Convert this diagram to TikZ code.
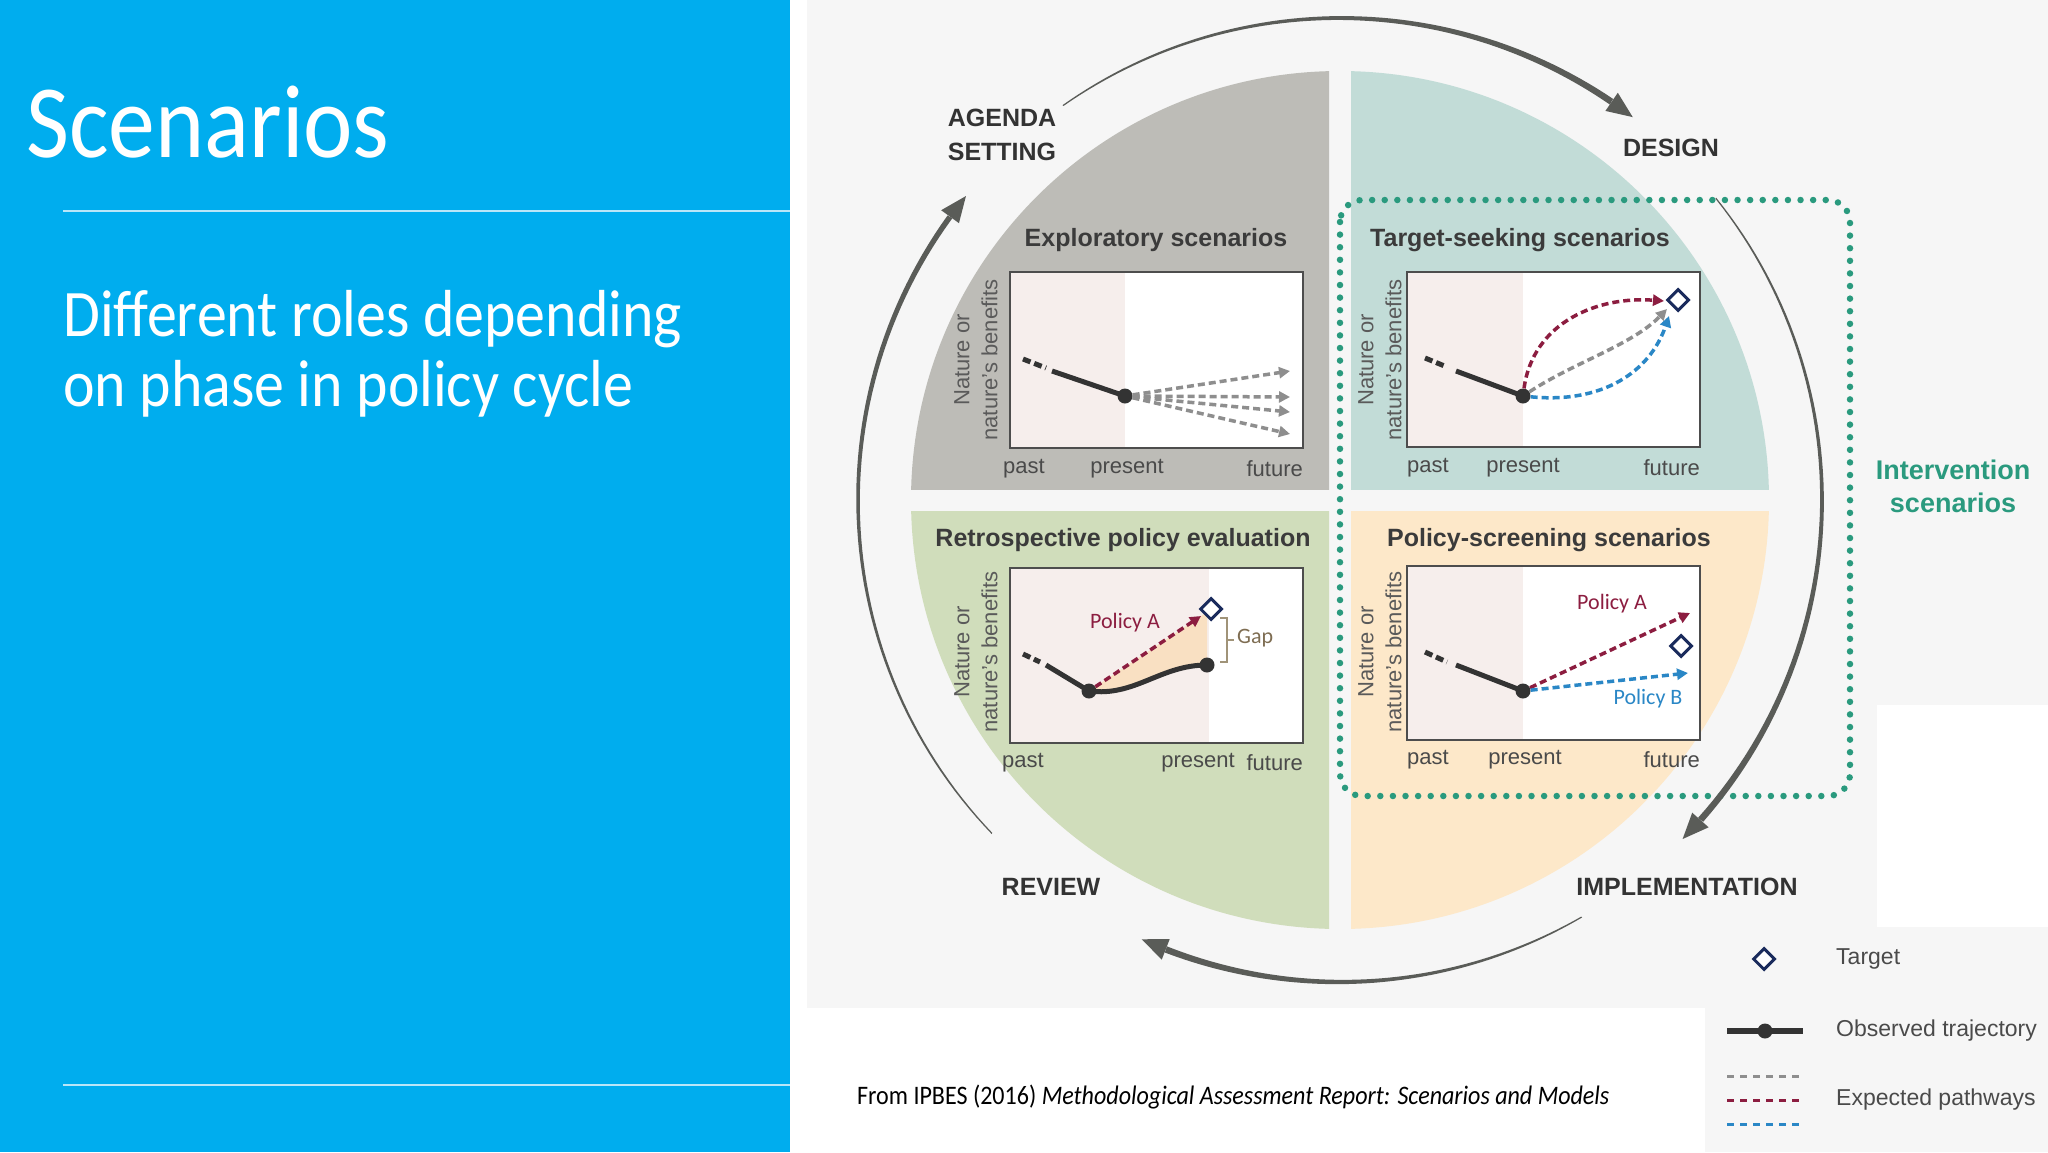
\documentclass[tikz,border=0pt]{standalone}
\usepackage{fontspec}
\setmainfont{Liberation Sans}
\newfontfamily\gill[FakeStretch=0.9]{Carlito}
\newfontfamily\calib{Carlito}
\usetikzlibrary{arrows.meta,shapes.geometric}
\definecolor{slideblue}{HTML}{00ADEE}
\definecolor{figbg}{HTML}{F6F6F6}
\definecolor{rulecol}{HTML}{B9E6F8}
\definecolor{qgray}{HTML}{BDBCB7}
\definecolor{qteal}{HTML}{C2DCD7}
\definecolor{qgreen}{HTML}{D0DDBB}
\definecolor{qorange}{HTML}{FDE8C9}
\definecolor{pastpink}{HTML}{F6EEEC}
\definecolor{framecol}{HTML}{4D4D4D}
\definecolor{obscol}{HTML}{333333}
\definecolor{pathgray}{HTML}{8E8E8E}
\definecolor{pathred}{HTML}{8C1D40}
\definecolor{pathblue}{HTML}{2A87C6}
\definecolor{navy}{HTML}{1A2B5C}
\definecolor{arrowcol}{HTML}{5A5C58}
\definecolor{tealtxt}{HTML}{2A9A7E}
\definecolor{titlegray}{HTML}{3B3B3B}
\definecolor{labgray}{HTML}{4A4A4A}
\definecolor{axgray}{HTML}{5A5A5A}
\definecolor{gapcol}{HTML}{7E6D52}
\definecolor{bracecol}{HTML}{A09378}
\definecolor{shadecol}{HTML}{F9E0C2}
\tikzset{
  lbl/.style={font=\fontsize{22}{26}\selectfont, text=labgray, inner sep=0pt},
  qtitle/.style={font=\bfseries\fontsize{25}{30}\selectfont, text=titlegray, inner sep=0pt},
  phase/.style={font=\bfseries\fontsize{25}{34}\selectfont, text=obscol, align=center, inner sep=0pt},
  axislbl/.style={font=\fontsize{22}{28}\selectfont, text=axgray, rotate=90, align=center, inner sep=0pt},
  obs/.style={line width=5pt, draw=obscol},
  obsdash/.style={line width=5pt, draw=obscol, dash pattern=on 8pt off 4pt},
  pgray/.style={line width=3.5pt, draw=pathgray, dash pattern=on 7pt off 4pt, -{Triangle[length=11pt,width=11pt]}},
  pred/.style={line width=3.5pt, draw=pathred, dash pattern=on 7pt off 4pt, -{Triangle[length=11pt,width=11pt]}},
  pblue/.style={line width=3.5pt, draw=pathblue, dash pattern=on 7pt off 4pt, -{Triangle[length=11pt,width=11pt]}},
  dot/.style={circle, fill=obscol, inner sep=0pt, minimum size=15pt},
  target/.style={diamond, draw=navy, fill=white, line width=3pt, inner sep=0pt, minimum width=22pt, minimum height=22pt},
  pol/.style={font=\calib\fontsize{22}{26}\selectfont, inner sep=0pt},
  legtxt/.style={font=\fontsize{23}{28}\selectfont, text=labgray, anchor=west, inner sep=0pt},
}
\newcommand\chartframe[5]{%
  \fill[white] (#1,#2) rectangle (#4,#5);
  \fill[pastpink] (#1,#2) rectangle (#3,#5);
  \draw[framecol, line width=2.5pt] (#1,#2) rectangle (#4,#5);}
\newcommand\cyclearrow[4]{%
  \pgfmathsetmacro\caS{#1}%
  \pgfmathsetmacro\caT{#2}%
  \pgfmathsetmacro\caB{(#2)+3.1}%
  \fill[arrowcol] plot[domain=0:1, samples=60, variable=\t]
     ({1340+(482+((#3)+((#4)-(#3))*\t)/2)*cos((\caS)+((\caB)-(\caS))*\t)},
      {500-(482+((#3)+((#4)-(#3))*\t)/2)*sin((\caS)+((\caB)-(\caS))*\t)})
   -- plot[domain=0:1, samples=60, variable=\t]
     ({1340+(482-((#4)-((#4)-(#3))*\t)/2)*cos((\caB)-((\caB)-(\caS))*\t)},
      {500-(482-((#4)-((#4)-(#3))*\t)/2)*sin((\caB)-((\caB)-(\caS))*\t)})
   -- cycle;
  \fill[arrowcol] ({1340+482*cos(\caT)},{500-482*sin(\caT)})
     -- ({1340+493*cos(\caB)},{500-493*sin(\caB)})
     -- ({1340+471*cos(\caB)},{500-471*sin(\caB)}) -- cycle;}
\begin{document}
\begin{tikzpicture}[x=1pt,y=-1pt]
\useasboundingbox (0,0) rectangle (2048,1152);
% backgrounds
\fill[white] (0,0) rectangle (2048,1152);
\fill[slideblue] (0,0) rectangle (790,1152);
\fill[figbg] (807,0) rectangle (2048,1008);
\fill[figbg] (1705,1008) rectangle (2048,1152);
\fill[white] (1877,705) rectangle (2048,927);
\draw[rulecol, line width=2pt] (63,211) -- (790,211);
\draw[rulecol, line width=2pt] (63,1085) -- (790,1085);
% slide text
\node[anchor=base west, text=white, font=\gill\fontsize{104}{110}\selectfont, inner sep=0pt] (title) at (26,157) {Scenarios};
\node[anchor=base west, text=white, font=\gill\fontsize{66.5}{70}\selectfont, inner sep=0pt] (sub1) at (63,336) {Different roles depending};
\node[anchor=base west, text=white, font=\gill\fontsize{66.5}{70}\selectfont, inner sep=0pt] (sub2) at (63,406) {on phase in policy cycle};
\node[anchor=base west, text=black, font=\gill\fontsize{26.7}{32}\selectfont, inner sep=0pt] (cap) at (857,1104) {From IPBES (2016) \textit{Methodological Assessment Report: Scenarios and Models}};
% quadrants
\begin{scope}\clip (0,0) rectangle (1329,489); \fill[qgray] (1340,500) circle[radius=429]; \end{scope}
\begin{scope}\clip (1351,0) rectangle (2048,489); \fill[qteal] (1340,500) circle[radius=429]; \end{scope}
\begin{scope}\clip (0,511) rectangle (1329,1152); \fill[qgreen] (1340,500) circle[radius=429]; \end{scope}
\begin{scope}\clip (1351,511) rectangle (2048,1152); \fill[qorange] (1340,500) circle[radius=429]; \end{scope}
% quadrant titles
\node[qtitle] (q1) at (1156,240) {Exploratory scenarios};
\node[qtitle] (q2) at (1520,240) {Target-seeking scenarios};
\node[qtitle] (q3) at (1123,540) {Retrospective policy evaluation};
\node[qtitle] (q4) at (1549,540) {Policy-screening scenarios};
% ---------- chart TL
\chartframe{1010}{272}{1125}{1303}{448}
\node[dot] (tlp) at (1125,396) {};
\coordinate (tla) at (1023,359); \coordinate (tlb) at (1046,368); \coordinate (tlc) at (1052,371);
\draw[obsdash] (tla) -- (tlb);
\draw[obs] (tlc) -- (tlp.center);
\coordinate (tle1) at (1290,371); \coordinate (tle2) at (1290,397);
\coordinate (tle3) at (1290,412); \coordinate (tle4) at (1290,434);
\foreach \c in {tle1,tle2,tle3,tle4} \draw[pgray] (tlp) -- (\c);
\node[axislbl] (tly) at (976,360) {Nature or\\nature's benefits};
\node[lbl] (tlx1) at (1024,469) {past};
\node[lbl] (tlx2) at (1127,469) {present};
\node[lbl, anchor=east] (tlx3) at (1303,469) {future};
% ---------- chart TR
\chartframe{1407}{272}{1523}{1700}{447}
\node[dot] (trp) at (1523,396) {};
\coordinate (tra) at (1425,358); \coordinate (trb) at (1447,367); \coordinate (trc) at (1456,371);
\draw[obsdash] (tra) -- (trb);
\draw[obs] (trc) -- (trp.center);
\node[target] (trt) at (1678,300) {};
\coordinate (tre1) at (1664,301); \coordinate (tre2) at (1667,309); \coordinate (tre3) at (1669,316);
\draw[pred] (trp) .. controls (1533,322) and (1598,296) .. (tre1);
\draw[pgray] (trp) .. controls (1575,362) and (1632,345) .. (tre2);
\draw[pblue] (trp) .. controls (1602,404) and (1650,372) .. (tre3);
\node[axislbl] (try) at (1380,360) {Nature or\\nature's benefits};
\node[lbl] (trx1) at (1428,468) {past};
\node[lbl] (trx2) at (1523,468) {present};
\node[lbl, anchor=east] (trx3) at (1700,468) {future};
% ---------- chart BL
\chartframe{1010}{568}{1209}{1303}{743}
\fill[shadecol] (1089,691) -- (1207,612) -- (1207,665) .. controls (1160,665) and (1135,697) .. (1089,691) -- cycle;
\node[dot] (blp1) at (1089,691) {};
\node[dot] (blp2) at (1207,665) {};
\coordinate (bla) at (1023,654); \coordinate (blb) at (1040,662); \coordinate (blc) at (1046,665);
\draw[obsdash] (bla) -- (blb);
\draw[obs] (blc) -- (blp1.center);
\draw[obs] (blp1.center) .. controls (1135,697) and (1160,665) .. (blp2.center);
\coordinate (ble) at (1201,616);
\draw[pred] (blp1) -- (ble);
\node[target] (blt) at (1211,609) {};
\node[pol, text=pathred] (blpa) at (1125,623) {Policy A};
\draw[bracecol, line width=1.5pt] (1220,618) -- (1227,618) -- (1227,662) -- (1220,662) (1227,640) -- (1234,640);
\node[pol, text=gapcol, anchor=west] (gap) at (1237,638) {Gap};
\node[axislbl] (bly) at (976,652) {Nature or\\nature's benefits};
\node[lbl] (blx1) at (1023,763) {past};
\node[lbl] (blx2) at (1198,763) {present};
\node[lbl, anchor=east] (blx3) at (1303,763) {future};
% ---------- chart BR
\chartframe{1407}{566}{1523}{1700}{740}
\node[dot] (brp) at (1523,691) {};
\coordinate (bra) at (1425,652); \coordinate (brb) at (1447,662); \coordinate (brc) at (1456,665);
\draw[obsdash] (bra) -- (brb);
\draw[obs] (brc) -- (brp.center);
\coordinate (bre1) at (1690,613); \coordinate (bre2) at (1688,673);
\draw[pred] (brp) -- (bre1);
\draw[pblue] (brp) -- (bre2);
\node[target] (brt) at (1681,646) {};
\node[pol, text=pathred] (brpa) at (1612,604) {Policy A};
\node[pol, text=pathblue] (brpb) at (1648,699) {Policy B};
\node[axislbl] (bry) at (1380,652) {Nature or\\nature's benefits};
\node[lbl] (brx1) at (1428,760) {past};
\node[lbl] (brx2) at (1525,760) {present};
\node[lbl, anchor=east] (brx3) at (1700,760) {future};
% intervention box
\draw[tealtxt, line width=6.5pt, line cap=round, dash pattern=on 0pt off 12.6pt, rounded corners=22pt] (1340,200) rectangle (1850,796);
\node[font=\bfseries\fontsize{27}{33}\selectfont, text=tealtxt, align=center, inner sep=0pt] (interv) at (1953,486) {Intervention\\scenarios};
% cycle arrows
\cyclearrow{125.1}{52.6}{1.2}{6.5}
\cyclearrow{38.8}{-44.7}{1.2}{6.5}
\cyclearrow{-59.9}{-114.3}{1.2}{6.5}
\cyclearrow{223.8}{140.9}{1.2}{5.5}
% phase labels
\node[phase] (agenda) at (1002,135) {AGENDA\\SETTING};
\node[phase] (design) at (1671,148) {DESIGN};
\node[phase] (review) at (1051,887) {REVIEW};
\node[phase] (implem) at (1687,887) {IMPLEMENTATION};
% legend
\node[target] (lgt) at (1764,959) {};
\node[legtxt] (lgtt) at (1836,959) {Target};
\coordinate (lgo1) at (1727,1031); \coordinate (lgo2) at (1803,1031);
\draw[obscol, line width=6pt] (lgo1) -- (lgo2);
\node[dot] (lgod) at (1765,1031) {};
\node[legtxt] (lgot) at (1836,1031) {Observed trajectory};
\coordinate (lg1a) at (1727,1076); \coordinate (lg1b) at (1803,1076);
\coordinate (lg2a) at (1727,1100); \coordinate (lg2b) at (1803,1100);
\coordinate (lg3a) at (1727,1124); \coordinate (lg3b) at (1803,1124);
\draw[pathgray, line width=3pt, dash pattern=on 7pt off 6pt] (lg1a) -- (lg1b);
\draw[pathred, line width=3pt, dash pattern=on 7pt off 6pt] (lg2a) -- (lg2b);
\draw[pathblue, line width=3pt, dash pattern=on 7pt off 6pt] (lg3a) -- (lg3b);
\node[legtxt] (lgpt) at (1836,1100) {Expected pathways};
\end{tikzpicture}
\end{document}
